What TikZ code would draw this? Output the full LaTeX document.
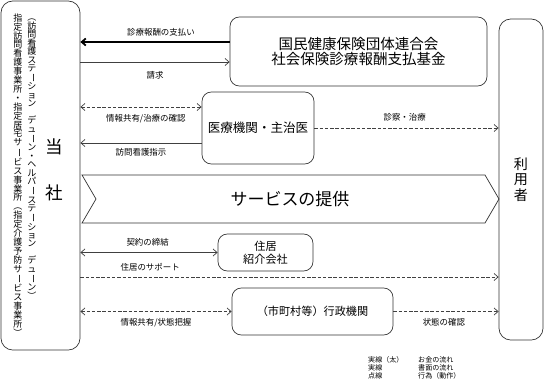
\documentclass[tikz,border=0pt]{standalone}
\usepackage{fontspec}
\usepackage{graphicx}
\setmainfont{Noto Sans CJK JP}
\usetikzlibrary{arrows.meta, positioning, calc}

% texte vertical : un caractère par case
\newcommand\tate[2]{\vtop{\offinterlineskip\def\tatepas{#1}\tatestep#2\relax}}
\def\tatestep#1{\ifx#1\relax\else\hbox to 1em{\vrule height\tatepas width 0pt\hss\raise0.1em\hbox{#1}\hss}\expandafter\tatestep\fi}
\newcommand\tatebo{\rotatebox[origin=c]{-90}{ー}}

\begin{document}
\begin{tikzpicture}[x=0.3mm, y=-0.3mm, >={Straight Barb[length=3.5pt,width=6pt]},
  boite/.style={draw=black!80, line width=0.6pt, rounded corners=8pt, align=center, inner sep=0pt},
  fleche/.style={draw=black!75, line width=0.6pt},
  pointille/.style={fleche, dash pattern=on 3pt off 1.5pt},
  etiq/.style={font=\fontsize{7.2}{8.5}\selectfont, inner sep=0pt},
  colonne/.style={font=\fontsize{7.7}{8}\selectfont, anchor=north, inner sep=0pt},
  legende/.style={font=\fontsize{6}{6.8}\selectfont, inner sep=0pt, align=left}]
  \useasboundingbox (0,0) rectangle (545,384);

  % Boîtes
  \node[boite, rounded corners=10pt, minimum width=23.7mm, minimum height=104.7mm] (tosha) at (40.5,175.5) {};
  \node[boite, rounded corners=10pt, minimum width=13.2mm, minimum height=96.3mm, font=\fontsize{12}{13}\selectfont] (riyosha) at (521,179.5) {利\\用\\者};
  \node[boite, minimum width=77.1mm, minimum height=20.7mm, font=\fontsize{12.4}{12.8}\selectfont] (kokuho) at (358.5,51.5) {国民健康保険団体連合会\\社会保険診療報酬支払基金};
  \node[boite, minimum width=33.6mm, minimum height=21.6mm, font=\fontsize{10.7}{13}\selectfont] (iryo) at (258,128) {医療機関・主治医};
  \node[boite, minimum width=28.5mm, minimum height=11.1mm, font=\fontsize{9.5}{11}\selectfont] (jukyo) at (265.5,252.5) {住居\\紹介会社};
  \node[boite, minimum width=48.3mm, minimum height=14.1mm, font=\fontsize{9.5}{11}\selectfont] (gyosei) at (312.5,311.5) {（市町村等）行政機関};

  % Textes du bloc de gauche
  \node[font=\fontsize{15}{39}\selectfont, align=center, inner sep=0pt] (toshamei) at (54,170) {当\\社};
  \node[colonne] (tatedroite) at (32,13) {\tate{7.2pt}{︵訪問看護ステ\tatebo ション　デュ\tatebo ン・ヘルパ\tatebo ステ\tatebo ション　デュ\tatebo ン︶}};
  \node[colonne] (tategauche) at (18,13) {\tate{7.6pt}{指定訪問看護事業所・指定居宅サ\tatebo ビス事業所︵指定介護予防サ\tatebo ビス事業所︶}};

  % Bandeau
  \draw[draw=black!80, line width=0.6pt] (82,175) -- (485,175) -- (499,199) -- (485,223) -- (82,223) -- (96,199) -- cycle;
  \node[font=\fontsize{14.5}{16}\selectfont, inner sep=0pt] (teikyo) at (290,199) {サービスの提供};

  % Flux avec les caisses
  \draw[fleche, draw=black, line width=1.5pt, ->] (kokuho.west |- 0,42) -- (tosha.east |- 0,42) node[etiq, pos=0.46, above=4.5pt] {診療報酬の支払い};
  \draw[fleche, ->] (tosha.east |- 0,62) -- (kokuho.west |- 0,62) node[etiq, midway, below=7.5pt] {請求};

  % Flux avec le médecin
  \draw[pointille, <->] (tosha.east |- 0,107) -- (iryo.west |- 0,107) node[etiq, pos=0.54, below=5.8pt] {情報共有/治療の確認};
  \draw[fleche, ->] (iryo.west |- 0,143) -- (tosha.east |- 0,143) node[etiq, midway, below=4.1pt] {訪問看護指示};
  \draw[pointille, ->] (iryo.east) -- (riyosha.west |- iryo.east) node[etiq, pos=0.49, above=5.8pt] {診察・治療};

  % Flux du logement
  \draw[fleche, <->] (tosha.east |- jukyo.west) -- (jukyo.west) node[etiq, pos=0.49, above=4.9pt] {契約の締結};
  \draw[pointille, ->] (tosha.east |- 0,277) -- (riyosha.west |- 0,277) node[etiq, pos=0.167, above=4.9pt] {住居のサポート};

  % Flux avec la commune
  \draw[pointille, <->] (tosha.east |- gyosei.west) -- (gyosei.west) node[etiq, midway, below=5.8pt] {情報共有/状態把握};
  \draw[pointille, ->] (gyosei.east) -- (riyosha.west |- gyosei.east) node[etiq, pos=0.48, below=5.8pt] {状態の確認};

  % Légende
  \node[legende, anchor=north west] (ltrait) at (368,356) {実線（太）\\実線\\点線};
  \node[legende, anchor=north west] (lsens) at (418,356) {お金の流れ\\書面の流れ\\行為（動作）};
\end{tikzpicture}
\end{document}
